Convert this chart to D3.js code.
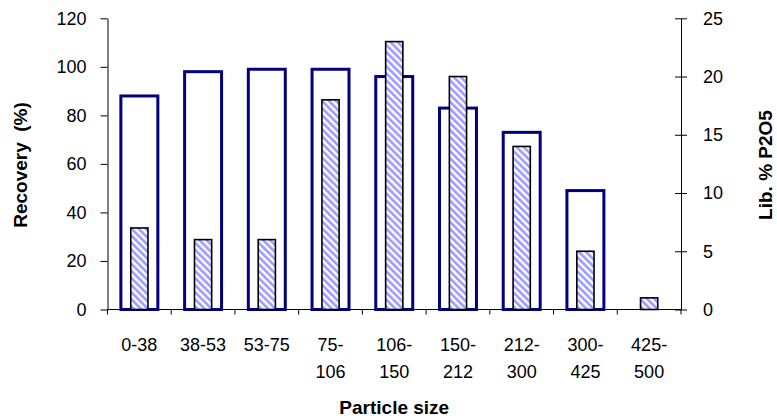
<!DOCTYPE html>
<html>
<head>
<meta charset="utf-8">
<script src="https://cdn.jsdelivr.net/npm/d3@7"></script>
<style>
  html, body { margin: 0; padding: 0; background: #fff; }
  svg { display: block; font-family: Arial, "Liberation Sans", sans-serif; }
</style>
</head>
<body>
<svg id="chart" width="777" height="419"></svg>
<script>
// Particle size classes (two-line labels where the class name wraps)
const categories = ["0-38", "38-53", "53-75", "75-106", "106-150", "150-212", "212-300", "300-425", "425-500"];
const categoryLines = [["0-38"], ["38-53"], ["53-75"], ["75-", "106"], ["106-", "150"], ["150-", "212"], ["212-", "300"], ["300-", "425"], ["425-", "500"]];
// Recovery (%) per size class, left axis
const recovery = [88, 98, 99, 99, 96, 83, 73, 49, null];
// Liberation % P2O5 per size class, right axis
const liberation = [7, 6, 6, 18, 23, 20, 14, 5, 1];
const leftTicks = [0, 20, 40, 60, 80, 100, 120];
const rightTicks = [0, 5, 10, 15, 20, 25];

const svg = d3.select("#chart");
const plot = { left: 107.5, right: 681, top: 18.3, bottom: 309.5 };

const x = d3.scaleBand().domain(categories).range([plot.left, plot.right]);
const yL = d3.scaleLinear().domain([0, 120]).range([plot.bottom, plot.top]);
const yR = d3.scaleLinear().domain([0, 25]).range([plot.bottom, plot.top]);

// Diagonal hatch for the liberation bars
const defs = svg.append("defs");
const pat = defs.append("pattern")
  .attr("id", "hatch")
  .attr("patternUnits", "userSpaceOnUse")
  .attr("width", 5).attr("height", 5)
  .attr("patternTransform", "rotate(-45)");
pat.append("rect").attr("width", 5).attr("height", 5).attr("fill", "#ffffff");
pat.append("rect").attr("width", 2.6).attr("height", 5).attr("fill", "#9a9aff");

// Recovery bars: white fill, navy outline
const wideW = x.bandwidth() * 0.58;
svg.append("g").selectAll("rect")
  .data(categories.map((c, i) => ({ c, v: recovery[i] })).filter(d => d.v != null))
  .join("rect")
  .attr("x", d => x(d.c) + (x.bandwidth() - wideW) / 2)
  .attr("y", d => yL(d.v))
  .attr("width", wideW)
  .attr("height", d => yL(0) - yL(d.v))
  .attr("fill", "#ffffff")
  .attr("stroke", "#000080")
  .attr("stroke-width", 3);

// Liberation bars: hatched, black outline
const narrowW = x.bandwidth() * 0.27;
svg.append("g").selectAll("rect")
  .data(categories.map((c, i) => ({ c, v: liberation[i] })))
  .join("rect")
  .attr("x", d => x(d.c) + (x.bandwidth() - narrowW) / 2)
  .attr("y", d => yR(d.v))
  .attr("width", narrowW)
  .attr("height", d => yR(0) - yR(d.v))
  .attr("fill", "url(#hatch)")
  .attr("stroke", "#000000")
  .attr("stroke-width", 1.6);

// Left axis
const gL = svg.append("g")
  .attr("transform", `translate(${plot.left},0)`)
  .call(d3.axisLeft(yL).tickValues(leftTicks).tickSize(7).tickPadding(14).tickSizeOuter(0));
// Right axis (ticks cross the line)
const gR = svg.append("g")
  .attr("transform", `translate(${plot.right},0)`)
  .call(d3.axisRight(yR).tickValues(rightTicks).tickSize(6).tickPadding(16).tickSizeOuter(0));
gR.selectAll(".tick line").attr("x1", -6).attr("x2", 6);

// X axis with ticks at the class boundaries
const gX = svg.append("g").attr("transform", `translate(0,${plot.bottom})`);
gX.append("line")
  .attr("x1", plot.left).attr("x2", plot.right)
  .attr("stroke", "#000");
const boundaries = categories.map(c => x(c)).concat([plot.right]);
gX.selectAll("line.b")
  .data(boundaries)
  .join("line")
  .attr("class", "b")
  .attr("x1", d => d).attr("x2", d => d)
  .attr("y1", 0).attr("y2", 5)
  .attr("stroke", "#000");

[gL, gR].forEach(g => {
  g.select(".domain").attr("stroke", "#000");
  g.selectAll(".tick line").attr("stroke", "#000");
  g.selectAll(".tick text").attr("font-size", 18).attr("fill", "#000")
    .attr("font-family", "Arial, 'Liberation Sans', sans-serif");
});

// Category labels
const lab = svg.append("g").selectAll("text")
  .data(categories.map((c, i) => ({ c, lines: categoryLines[i] })))
  .join("text")
  .attr("text-anchor", "middle")
  .attr("font-size", 18)
  .attr("fill", "#000");
lab.selectAll("tspan")
  .data(d => d.lines.map(l => ({ l, c: d.c })))
  .join("tspan")
  .attr("x", d => x(d.c) + x.bandwidth() / 2)
  .attr("y", (d, i) => 351 + i * 27)
  .text(d => d.l);

// Axis titles
svg.append("text")
  .attr("x", (plot.left + plot.right) / 2).attr("y", 414)
  .attr("text-anchor", "middle")
  .attr("font-size", 19).attr("font-weight", "bold")
  .text("Particle size");

svg.append("text")
  .attr("transform", "translate(27,165) rotate(-90)")
  .attr("text-anchor", "middle")
  .attr("font-size", 19).attr("font-weight", "bold")
  .attr("xml:space", "preserve")
  .style("white-space", "pre")
  .text("Recovery  (%)");

svg.append("text")
  .attr("transform", "translate(772,165) rotate(-90)")
  .attr("text-anchor", "middle")
  .attr("font-size", 19).attr("font-weight", "bold")
  .text("Lib. % P2O5");
</script>
</body>
</html>
